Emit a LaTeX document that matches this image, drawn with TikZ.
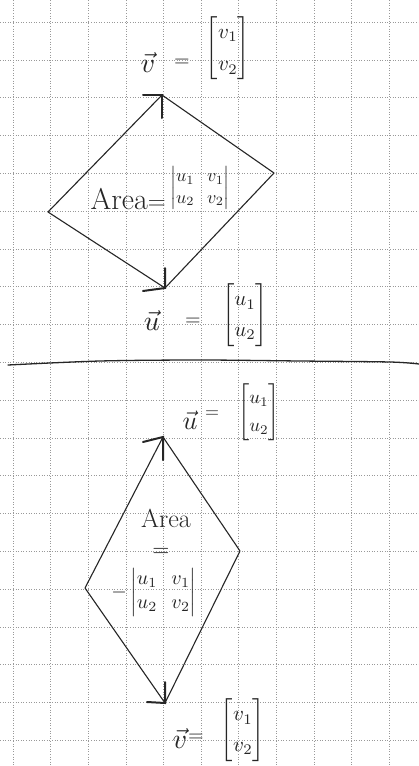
\documentclass[tikz,border=0pt]{standalone}
\usepackage{amsmath}
\begin{document}
\begin{tikzpicture}[x=1pt,y=-1pt,
  ink/.style={draw=black!85, line width=1.1pt, line cap=round, line join=round},
  barb/.style={draw=black!85, line width=2pt, line cap=round},
  gridline/.style={draw=black!40, line width=0.6pt, dotted},
  lbl/.style={inner sep=0pt, text=black!85}]
\useasboundingbox (0,0) rectangle (419,766);
\fill[white] (0,0) rectangle (419,766);
% graph paper
\foreach \i in {0,...,10} \draw[gridline] ({13+37.6*\i},0) -- ({13+37.6*\i},766);
\foreach \j in {0,...,19} \draw[gridline] (0,{22+37.8*\j}) -- (419,{22+37.8*\j});

% ---------- top parallelogram ----------
\coordinate (O1) at (48,212);
\coordinate (V1) at (162,95);
\coordinate (R1) at (274,173);
\coordinate (U1) at (165,288);
\coordinate (V1a) at (143,95);
\coordinate (V1b) at (162,118);
\coordinate (U1a) at (143,291);
\coordinate (U1b) at (165,268);
\draw[ink] (O1) -- (V1) -- (R1) -- (U1) -- cycle;
\draw[barb] (V1a) -- (V1) -- (V1b);
\draw[barb] (U1a) -- (U1) -- (U1b);

\node[lbl] (vlab1) at (148,62) {\scalebox{2.8}{$\vec{v}$}};
\node[lbl] (eq1) at (182,63) {\scalebox{2}{$=$}};
\node[lbl] (vmat1) at (228,48) {\scalebox{2.1}{$\renewcommand{\arraystretch}{1.3}\begin{bmatrix}v_1\\ v_2\end{bmatrix}$}};

\node[lbl, font=\fontsize{30}{34}\selectfont, anchor=east] (area1) at (166,199) {Area$=$};
\node[lbl] (det1) at (200,188) {\scalebox{1.8}{$\setlength{\arraycolsep}{3.5pt}\begin{vmatrix}u_1 & v_1\\ u_2 & v_2\end{vmatrix}$}};

\node[lbl] (ulab1) at (152,320) {\scalebox{2.8}{$\vec{u}$}};
\node[lbl] (eq2) at (193,322) {\scalebox{2}{$=$}};
\node[lbl] (umat1) at (245,315) {\scalebox{2.1}{$\renewcommand{\arraystretch}{1.2}\begin{bmatrix}u_1\\ u_2\end{bmatrix}$}};

% divider
\draw[ink, line width=1.3pt] plot[smooth] coordinates {(8,365) (100,361) (200,360) (300,361) (390,362) (419,364)};

% ---------- bottom parallelogram ----------
\coordinate (O2) at (85,588);
\coordinate (U2) at (163,437);
\coordinate (R2) at (240,551);
\coordinate (V2) at (165,703);
\coordinate (U2a) at (143,442);
\coordinate (U2b) at (163,460);
\coordinate (V2a) at (147,702);
\coordinate (V2b) at (165,682);
\draw[ink] (O2) -- (U2) -- (R2) -- (V2) -- cycle;
\draw[barb] (U2a) -- (U2) -- (U2b);
\draw[barb] (V2a) -- (V2) -- (V2b);

\node[lbl] (ulab2) at (190,420) {\scalebox{2.6}{$\vec{u}$}};
\node[lbl] (eq3) at (212,414) {\scalebox{1.8}{$=$}};
\node[lbl] (umat2) at (259,412) {\scalebox{1.9}{$\renewcommand{\arraystretch}{1.2}\begin{bmatrix}u_1\\ u_2\end{bmatrix}$}};

\node[lbl, font=\fontsize{26}{30}\selectfont] (area2) at (166,518) {Area};
\node[lbl] (eq4) at (161,552) {\scalebox{2.2}{$=$}};
\node[lbl] (det2) at (154,592) {\scalebox{2}{$\setlength{\arraycolsep}{3.5pt}-\begin{vmatrix}u_1 & v_1\\ u_2 & v_2\end{vmatrix}$}};

\node[lbl] (vlab2) at (180,738) {\scalebox{2.8}{$\vec{v}$}};
\node[lbl] (eq5) at (196,738) {\scalebox{2}{$=$}};
\node[lbl] (vmat2) at (243,730) {\scalebox{2.1}{$\renewcommand{\arraystretch}{1.2}\begin{bmatrix}v_1\\ v_2\end{bmatrix}$}};
\end{tikzpicture}
\end{document}
